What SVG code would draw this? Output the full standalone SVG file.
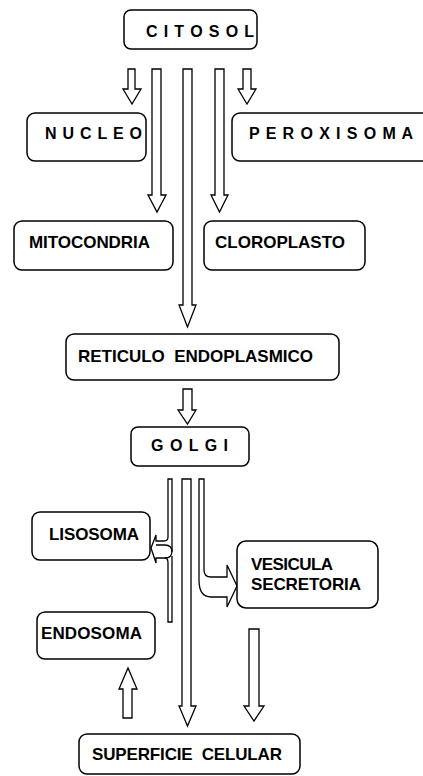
<svg xmlns="http://www.w3.org/2000/svg" width="423" height="776" viewBox="0 0 423 776">
<style>
.box{fill:#fff;stroke:#000;stroke-width:1.5}
.lbl{font-family:"Liberation Sans",Arial,sans-serif;font-weight:bold;font-size:17px;fill:#000}
.sp{font-size:16px}
.arr{fill:#fff;stroke:#000;stroke-width:1.3;stroke-linejoin:miter}
.ln{fill:none;stroke:#000;stroke-width:1.3}
</style>
<rect width="423" height="776" fill="#fff"/>
<g id="connectors">
<path class="arr" d="M128,69 L135,69 L135,89 L141,89 L132,104 L123,89 L128,89 Z"/>
<path class="arr" d="M243,69 L251,69 L251,89 L256,89 L247,104 L238,89 L243,89 Z"/>
<path class="arr" d="M152,69 L161,69 L161,195 L166,195 L157,212 L148,195 L152,195 Z"/>
<path class="arr" d="M183,69 L192,69 L192,305 L196,305 L187.5,327 L179,305 L183,305 Z"/>
<path class="arr" d="M215,69 L224,69 L224,195 L228,195 L219.5,212 L211,195 L215,195 Z"/>
<path class="arr" d="M183,389 L192,389 L192,410 L196,410 L187.5,424 L178,410 L183,410 Z"/>
<path class="arr" d="M182,479 L191,479 L191,706 L196,706 L187.5,726 L179,706 L182,706 Z"/>
<path class="arr" d="M249,629 L259,629 L259,706 L264,706 L254,721 L244,706 L249,706 Z"/>
<path class="arr" d="M123,718 L132,718 L132,689 L137,689 L128,668 L119,689 L123,689 Z"/>
<path class="arr" d="M199,479 L204,479 L204,570 Q204,577 211,577 L227,577 L227,565 L237,586 L227,607 L227,597 L211,597 Q199,597 199,580 Z"/>
<path class="arr" d="M168,479 L172,479 L172,551 Q172,558 165,558 L156,558 L156,563 L151,548 L156,535 L156,541 L164,541 Q168,541 168,537 Z"/>
<path class="ln" d="M156,545 L165,545 Q172,545 172,552"/>
<path class="ln" d="M165,558 Q168,558 168,563 L168,622 L172,622 L172,556"/>
</g>
<g id="citosol"><rect class="box" x="124" y="10" width="133" height="39" rx="7"/><text class="lbl sp" x="146" y="37" textLength="108">C I T O S O L</text></g>
<g id="nucleo"><rect class="box" x="27" y="113" width="119" height="48" rx="8"/><text class="lbl sp" x="45" y="139" textLength="97">N U C L E O</text></g>
<g id="peroxisoma"><rect class="box" x="232" y="113" width="200" height="48" rx="8"/><text class="lbl sp" x="249" y="139" textLength="164">P E R O X I S O M A</text></g>
<g id="mitocondria"><rect class="box" x="14" y="221" width="159" height="49" rx="8"/><text class="lbl" x="29" y="248" textLength="121">MITOCONDRIA</text></g>
<g id="cloroplasto"><rect class="box" x="204" y="221" width="161" height="49" rx="8"/><text class="lbl" x="215" y="248" textLength="130">CLOROPLASTO</text></g>
<g id="reticulo"><rect class="box" x="66" y="334" width="273" height="46" rx="8"/><text class="lbl" x="78" y="362" textLength="235" xml:space="preserve">RETICULO  ENDOPLASMICO</text></g>
<g id="golgi"><rect class="box" x="131" y="427" width="118" height="39" rx="7"/><text class="lbl sp" x="151" y="451" textLength="77">G O L G I</text></g>
<g id="lisosoma"><rect class="box" x="32" y="512" width="118" height="48" rx="8"/><text class="lbl" x="49" y="540" textLength="90">LISOSOMA</text></g>
<g id="vesicula"><rect class="box" x="237" y="541" width="141" height="67" rx="9"/><text class="lbl" x="251" y="570" textLength="82">VESICULA</text><text class="lbl" x="251" y="590" textLength="110">SECRETORIA</text></g>
<g id="endosoma"><rect class="box" x="37" y="612" width="118" height="47" rx="8"/><text class="lbl" x="41" y="639" textLength="101">ENDOSOMA</text></g>
<g id="superficie"><rect class="box" x="79" y="734" width="221" height="40" rx="8"/><text class="lbl" x="92" y="760" textLength="190" xml:space="preserve">SUPERFICIE  CELULAR</text></g>
</svg>
